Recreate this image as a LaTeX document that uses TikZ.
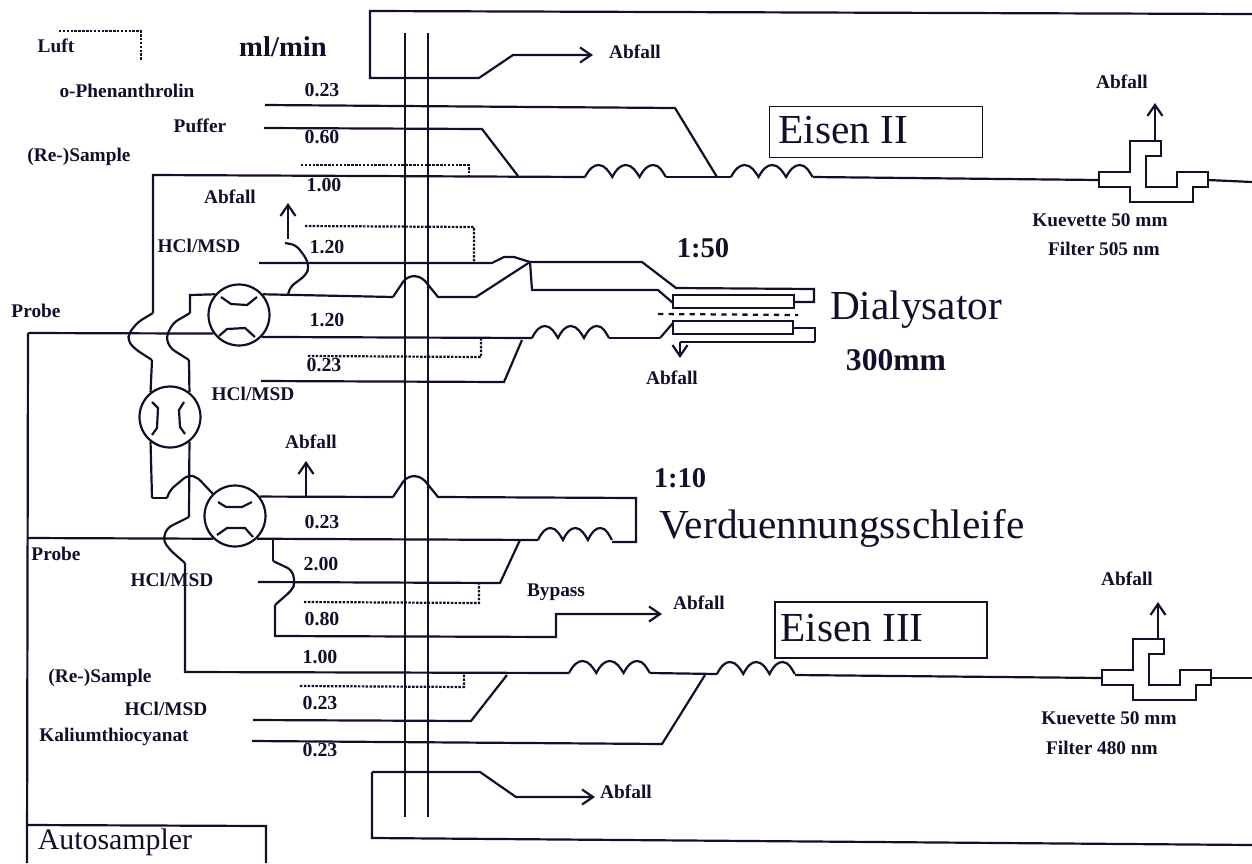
\documentclass[tikz,border=0pt]{standalone}
\usepackage{fontspec}
\setmainfont{Liberation Serif}
\usetikzlibrary{arrows.meta}
\definecolor{ink}{HTML}{10102A}
\newcommand{\CoilThree}[3]{%
  \begin{scope}[shift={(#1,#2)},xscale=#3]
    \draw[tube]
      (0,0) .. controls (4,-8) and (8,-12) .. (13,-12)
      .. controls (19,-12) and (23,-5) .. (26,0)
      .. controls (30,-8) and (34,-12) .. (39,-12)
      .. controls (45,-12) and (49,-5) .. (52,0)
      .. controls (56,-8) and (60,-12) .. (65,-12)
      .. controls (71,-12) and (74,-5) .. (77,0);
  \end{scope}
}
\newcommand{\BumpOver}[2]{%
  (#1,#2) -- (#1+10,#2-15) .. controls (#1+14,#2-21) and (#1+24,#2-24) .. (#1+32,#2-16)
  -- (#1+45,#2)
}
\newcommand{\FlowCell}[3]{%
  \begin{scope}[shift={(#1,#2)}]
    \draw[tube] (0,0)--(31,0)--(31,-31)--(62,-31)--(62,-16)--(47,-16)--(47,15)
      --(78,15)--(78,0)--(109,0)--(109,15)--(94,15)--(94,30)--(31,30)--(31,15)--(0,15)--cycle;
    \coordinate (#3W) at (0,8);
    \coordinate (#3E) at (109,8);
    \coordinate (#3T) at (56,-31);
  \end{scope}
}
\begin{document}
\begin{tikzpicture}[x=0.02cm,y=-0.02cm,line join=miter,
 >={Straight Barb[length=2.2mm,width=3mm]},
 tube/.style={ink,line width=1.25pt},
 jog/.style={tube,rounded corners=3pt},
 pumpline/.style={ink,line width=1.7pt},
 airline/.style={ink,line width=1.25pt,dash pattern=on 1.4pt off .8pt},
 valve/.style={draw=ink,line width=1.25pt,circle,minimum size=1.22cm,inner sep=0pt},
 small/.style={text=ink,font=\fontsize{11}{13}\selectfont\bfseries,inner sep=0pt},
 rate/.style={small,font=\fontsize{11.3}{13}\selectfont\bfseries},
 head/.style={text=ink,font=\fontsize{16.3}{19}\selectfont\bfseries,inner sep=0pt},
 big/.style={text=ink,font=\fontsize{23.5}{28}\selectfont,inner sep=0pt}]
\path[use as bounding box] (0,0) rectangle (1252,863);
% pump tubes
\draw[pumpline] (405,33)--(405,817);
\draw[pumpline] (428,33)--(428,817);
% waste frame, top and bottom
\draw[tube,->] (1252,14)--(370,11)--(370,78)--(479,78)--(513,55)--(593,55);
\node[small] (WasteTop) at (635,52) {Abfall};
\draw[tube,->] (372,772)--(480,772)--(516,797)--(595,797);
\draw[tube] (372,772)--(372,838)--(1252,845);
\node[small] (WasteBot) at (626,792) {Abfall};
% valves
\node[valve] (ValveA) at (239,315) {};
\node[valve] (ValveB) at (170,417) {};
\node[valve] (ValveC) at (235,516) {};
\draw[tube] (221,297)--(231,304)--(247,305)--(257,297);
\draw[tube] (219,336)--(227,329)--(245,328)--(255,337);
\draw[tube] (152,402)--(158,408)--(157,428)--(152,435);
\draw[tube] (184,402)--(179,410)--(180,427)--(185,434);
\draw[tube] (218,502)--(226,507)--(242,507)--(252,502);
\draw[tube] (217,535)--(227,528)--(245,528)--(253,537);
% legend
\node[small] (Luft) at (56,46) {Luft};
\draw[airline] (59,31)--(141,31)--(141,61);
\node[head] (Rate) at (283,47) {ml/min};
% Eisen II stream
\node[small] (Phen) at (127,91) {o-Phenanthrolin};
\node[small] (PufferA) at (200,126) {Puffer};
\node[small] (ResampleA) at (79,157) {(Re-)Sample};
\node[rate] (RA) at (322,90) {0.23};
\node[rate] (RB) at (322,137) {0.60};
\node[rate] (RC) at (324,185) {1.00};
\FlowCell{1099}{172}{CellA}
\draw[tube] (265,105)--(675,108)--(717,177);
\draw[tube] (264,128)--(482,129)--(518,176);
\draw[airline] (301,165)--(469,165)--(469,175);
\draw[jog] (ValveC.135)--(197,477)--(188,475)--(170,490)--(167,498);
\draw[tube] (167,498)--(152,498);
\draw[tube] (153,313)--(153,175)--(585,177);
\draw[jog] (153,313)--(138,322)--(129,333)--(128,341)--(135,349)--(152,360);
\CoilThree{585}{177}{1.05}
\draw[tube] (666,177)--(731,177);
\CoilThree{731}{177}{1.06}
\draw[tube] (813,177)--(CellAW);
\draw[tube] (CellAE)--(1252,182);
\draw[tube,->] (CellAT)--(1155,103);
\node[small] (WasteA) at (1122,82) {Abfall};
\node[small] (CuvA) at (1100,220) {Kuevette 50 mm};
\node[small] (FilterA) at (1104,249) {Filter 505 nm};
\node[draw=ink,line width=.9pt,minimum width=4.26cm,minimum height=1.02cm] (BoxA) at (876,132) {};
\node[big,anchor=west] (TitleA) at (778,130) {Eisen II};
% dialyser stream
\node[small] (WasteB) at (230,197) {Abfall};
\node[small] (HclA) at (199,246) {HCl/MSD};
\node[rate] (RD) at (327,247) {1.20};
\node[rate] (RE) at (327,320) {1.20};
\node[rate] (RF) at (324,365) {0.23};
\node[small] (HclB) at (253,394) {HCl/MSD};
\node[small] (ProbeA) at (36,311) {Probe};
\draw[tube,->] (288,239)--(288,203);
\draw[jog] (285,243)--(296,245)--(306,258)--(309,267)--(306,275)--(290,287)--(288,295);
\draw[airline] (305,226)--(474,227)--(474,263);
\draw[airline] (308,356)--(481,357)--(481,337);
\draw[tube] (259,263)--(492,263)--(504,257)--(514,257)--(530,262);
\draw[tube] (530,262)--(642,262)--(676,288)--(814,289)--(814,302)--(794,302);
\draw[tube] (530,262)--(532,290)--(658,290)--(673,303);
\draw[tube] (673,295) rectangle (794,308);
\draw[tube] (673,321) rectangle (793,334);
\draw[ink,line width=1.3pt,dashed] (658,314)--(798,315);
\draw[tube] (660,338)--(673,323);
\draw[tube] (815,342)--(815,328)--(793,328);
\draw[tube] (815,342)--(680,342);
\draw[tube,->] (680,342)--(680,358);
\draw[tube] (609,338)--(660,338);
\node[small] (WasteC) at (672,378) {Abfall};
\node[head] (RatioA) at (703,248) {1:50};
\node[big] (Dial) at (916,310) {Dialysator};
\node[text=ink,font=\fontsize{18}{21}\selectfont\bfseries,inner sep=0pt] (Len) at (896,360) {300mm};
\draw[tube] (ValveA.41)--(393,297);
\draw[tube] \BumpOver{393}{297}--(476,297)--(530,262);
\draw[tube] (ValveA.139)--(190,295)--(190,313);
\draw[jog] (190,313)--(173,323)--(166,337)--(170,348)--(189,360);
\draw[tube] (189,360)--(ValveB.52);
\draw[tube] (ValveB.-52)--(189,517);
\draw[tube] (152,360)--(ValveB.128);
\draw[tube] (ValveB.-128)--(152,498);
\draw[tube] (28,333)--(ValveA.216);
\draw[tube] (ValveA.316)--(532,338);
\CoilThree{532}{338}{1}
\draw[tube] (261,381)--(504,382)--(522,340);
% dilution loop
\node[small] (WasteD) at (311,442) {Abfall};
\draw[tube,->] (306,497)--(306,461);
\draw[tube] (ValveC.38)--(393,497);
\draw[tube] \BumpOver{393}{497}--(636,498)--(636,542)--(612,542);
\node[rate] (RG) at (322,522) {0.23};
\node[head] (RatioB) at (680,478) {1:10};
\node[big] (Loop) at (842,528) {Verduennungsschleife};
\draw[tube] (28,333)--(27,863);
\draw[tube] (27,538)--(ValveC.226);
\draw[tube] (ValveC.314)--(538,540);
\CoilThree{538}{540}{.96}
\node[small] (ProbeB) at (56,554) {Probe};
\draw[jog] (189,517)--(167,528)--(163,540)--(170,550)--(185,563);
% Eisen III stream
\node[small] (HclC) at (172,580) {HCl/MSD};
\node[rate] (RH) at (321,564) {2.00};
\node[rate] (RI) at (322,619) {0.80};
\node[rate] (RJ) at (320,657) {1.00};
\node[rate] (RK) at (320,703) {0.23};
\node[rate] (RL) at (320,750) {0.23};
\node[small] (Bypass) at (556,592) {Bypass};
\node[small] (WasteE) at (699,603) {Abfall};
\node[small] (ResampleB) at (100,678) {(Re-)Sample};
\node[small] (HclD) at (166,709) {HCl/MSD};
\node[small] (Kalium) at (114,737) {Kaliumthiocyanat};
\draw[tube] (258,582)--(500,583)--(520,540);
\draw[airline] (304,602)--(479,603)--(479,583);
\draw[tube] (273,538)--(273,561);
\draw[jog] (273,561)--(292,570)--(295,583)--(292,590)--(275,605);
\draw[tube,->] (275,605)--(275,636)--(556,637)--(556,614)--(662,614);
\draw[tube] (185,563)--(185,672)--(569,673);
\CoilThree{569}{673}{1.05}
\draw[tube] (650,673)--(717,674);
\CoilThree{717}{674}{1.01}
\FlowCell{1102}{670}{CellB}
\draw[tube] (795,675)--(CellBW);
\draw[tube] (CellBE)--(1252,678);
\draw[tube,->] (CellBT)--(1158,602);
\node[small] (WasteF) at (1127,579) {Abfall};
\node[small] (CuvB) at (1109,718) {Kuevette 50 mm};
\node[small] (FilterB) at (1102,748) {Filter 480 nm};
\draw[airline] (300,686)--(464,687)--(464,674);
\draw[tube] (253,720)--(471,721)--(507,675);
\draw[tube] (252,741)--(662,744)--(705,675);
\node[draw=ink,line width=.9pt,minimum width=4.24cm,minimum height=1.12cm] (BoxB) at (881,630) {};
\node[big,anchor=west] (TitleB) at (780,628) {Eisen III};
% autosampler
\draw[tube] (27,825)--(266,826)--(266,863);
\node[text=ink,font=\fontsize{17}{20}\selectfont,inner sep=0pt] (Auto) at (115,842) {Autosampler};
\end{tikzpicture}
\end{document}
